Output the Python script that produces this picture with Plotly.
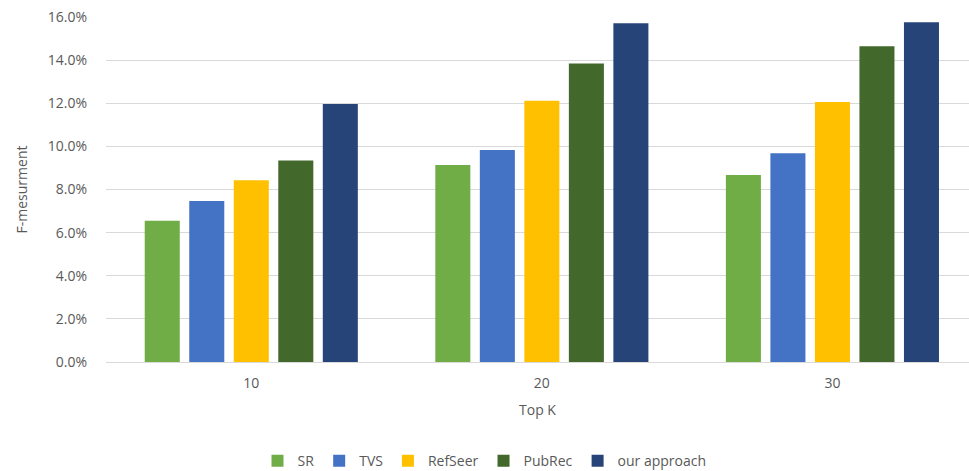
import plotly.graph_objects as go

categories = ["10", "20", "30"]
series_names = ["SR", "TVS", "RefSeer", "PubRec", "our approach"]
sr = [0.0655, 0.0914, 0.0867]
tvs = [0.0747, 0.0983, 0.0968]
refseer = [0.0843, 0.1212, 0.1206]
pubrec = [0.0934, 0.1384, 0.1464]
our_approach = [0.1197, 0.1571, 0.1576]
y_ticks = [0.0, 0.02, 0.04, 0.06, 0.08, 0.10, 0.12, 0.14, 0.16]

colors = ["#70AD47", "#4472C4", "#FFC000", "#43682B", "#264478"]
values = [sr, tvs, refseer, pubrec, our_approach]

fig = go.Figure()
for name, vals, col in zip(series_names, values, colors):
    fig.add_trace(go.Bar(x=categories, y=vals, name=name, marker_color=col,
                         marker_line_width=0))

font_family = "Open Sans, Liberation Sans, sans-serif"
text_col = "#595959"

fig.update_layout(
    width=969, height=471,
    margin=dict(l=106, r=0, t=17, b=109),
    paper_bgcolor="white", plot_bgcolor="white",
    barmode="group", bargap=0.234, bargroupgap=0.213,
    font=dict(family=font_family, size=14, color=text_col),
    showlegend=True,
    legend=dict(orientation="h", xref="container", yref="container",
                x=0.5, xanchor="center", y=0.021, yanchor="middle",
                font=dict(size=14, color=text_col),
                itemsizing="constant", traceorder="normal"),
)
fig.update_xaxes(
    type="category", range=[-0.5, 2.47],
    showgrid=False, showline=True, linecolor="#d9d9d9", linewidth=1,
    ticks="", ticklabelstandoff=8, tickfont=dict(size=14, color=text_col),
    title=dict(text="Top K", font=dict(size=14, color=text_col), standoff=14),
)
fig.update_yaxes(
    range=[0, 0.16], tickvals=y_ticks, tickformat=".1%",
    showgrid=True, gridcolor="#d9d9d9", gridwidth=1, zeroline=False,
    showline=False, ticks="", ticklabelstandoff=18,
    tickfont=dict(size=14, color=text_col),
    title=dict(text="F-mesurment", font=dict(size=14, color=text_col), standoff=16),
)

fig.write_html("out.html")
